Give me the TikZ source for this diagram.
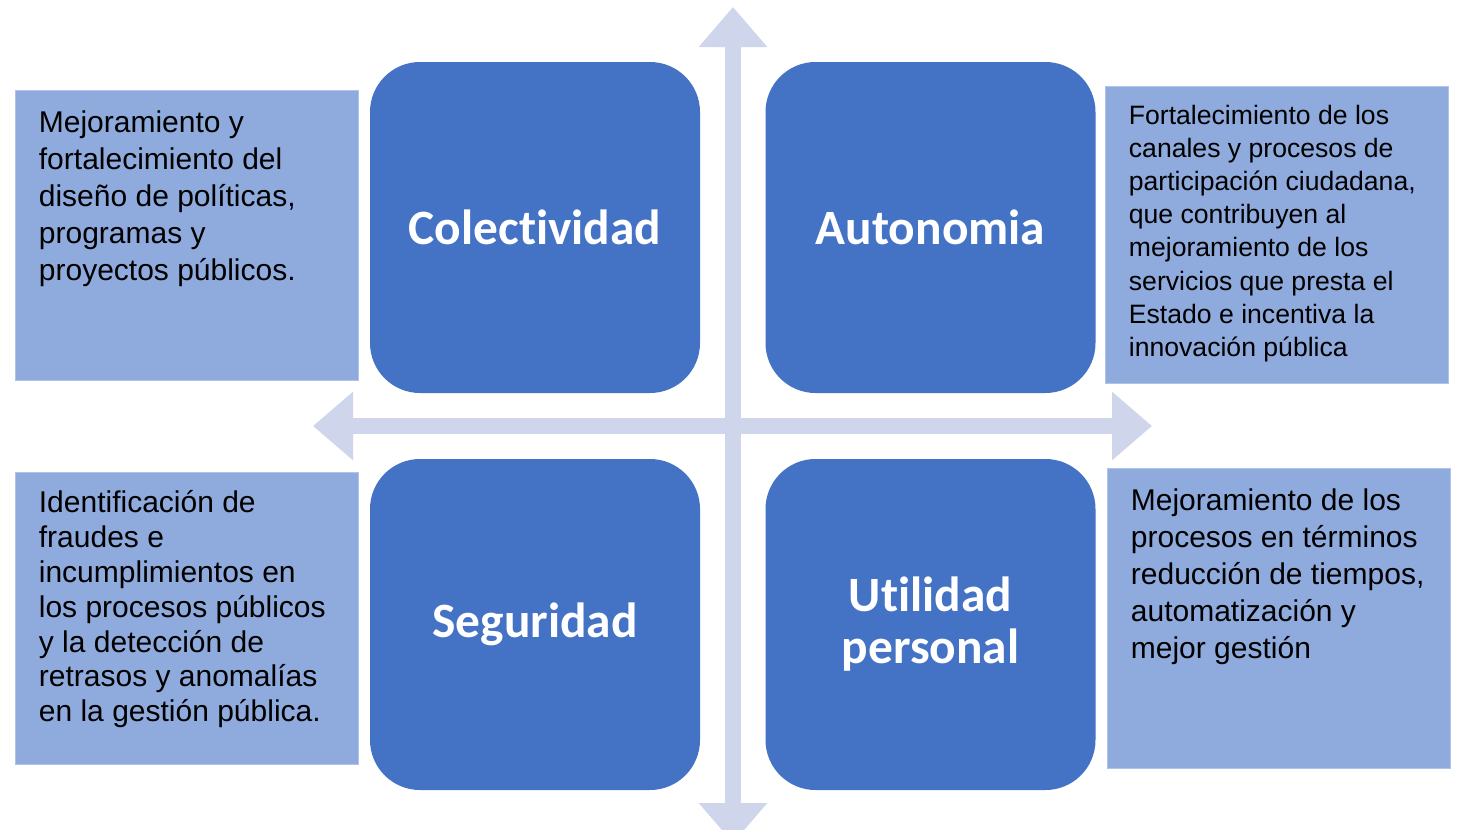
\documentclass[tikz,border=0pt]{standalone}
\usepackage{fontspec}
\setmainfont{Liberation Sans}
\newfontfamily\labelfont[Ligatures=NoCommon]{Carlito}
\usetikzlibrary{arrows.meta}
\definecolor{quad}{RGB}{68,114,196}
\definecolor{side}{RGB}{143,170,220}
\definecolor{sideedge}{RGB}{176,196,232}
\definecolor{axiscol}{RGB}{207,213,234}
\begin{document}
\begin{tikzpicture}[x=0.5pt,y=-0.5pt,
  quadbox/.style={fill=quad, draw=none, rounded corners=25pt, minimum width=165pt, minimum height=165.5pt, inner sep=0pt, text=white, font=\labelfont\bfseries\fontsize{24.7pt}{26pt}\selectfont, align=center},
  sidebox/.style={fill=side, draw=sideedge, line width=0.5pt, inner sep=0pt, minimum width=171.5pt},
  sidetext/.style={anchor=north west, inner sep=0pt, align=left, text=black, font=\fontsize{15pt}{18.5pt}\selectfont},
  smalltext/.style={sidetext, font=\fontsize{13.3pt}{16.6pt}\selectfont},
  axisline/.style={draw=axiscol, line width=8pt, {Triangle[length=20pt,width=33pt]}-{Triangle[length=20pt,width=33pt]}}
]
\clip (0,0) rectangle (1457,830);
\fill[white] (0,0) rectangle (1457,830);
% axes
\coordinate (top) at (733,7);
\coordinate (bottom) at (733,843);
\coordinate (left) at (313,426);
\coordinate (right) at (1152,426);
\draw[axisline] (top) -- (bottom);
\draw[axisline] (left) -- (right);
% quadrants
\node[quadbox] (colec) at (535,227.5) {Colectividad};
\node[quadbox] (auton) at (930.5,227.5) {Autonomia};
\node[quadbox] (segur) at (535,624.5) {Seguridad};
\node[quadbox] (util) at (930.5,624.5) {Utilidad\\personal};
% side boxes
\node[sidebox, minimum height=145pt] (tl) at (186.5,235) {};
\node[sidebox, minimum height=148.5pt] (tr) at (1276.5,234.5) {};
\node[sidebox, minimum height=146pt] (bl) at (186.5,618) {};
\node[sidebox, minimum height=150pt] (br) at (1278.5,618) {};
\node[sidetext] (tltext) at ([shift={(24,21)}]tl.north west) {Mejoramiento y\\fortalecimiento del\\diseño de políticas,\\programas y\\proyectos públicos.};
\node[smalltext] (trtext) at ([shift={(24,19)}]tr.north west) {Fortalecimiento de los\\canales y procesos de\\participación ciudadana,\\que contribuyen al\\mejoramiento de los\\servicios que presta el\\Estado e incentiva la\\innovación pública};
\node[sidetext, font=\fontsize{15pt}{17.4pt}\selectfont] (bltext) at ([shift={(24,19)}]bl.north west) {Identificación de\\fraudes e\\incumplimientos en\\los procesos públicos\\y la detección de\\retrasos y anomalías\\en la gestión pública.};
\node[sidetext] (brtext) at ([shift={(24,21)}]br.north west) {Mejoramiento de los\\procesos en términos\\reducción de tiempos,\\automatización y\\mejor gestión};
\end{tikzpicture}
\end{document}
